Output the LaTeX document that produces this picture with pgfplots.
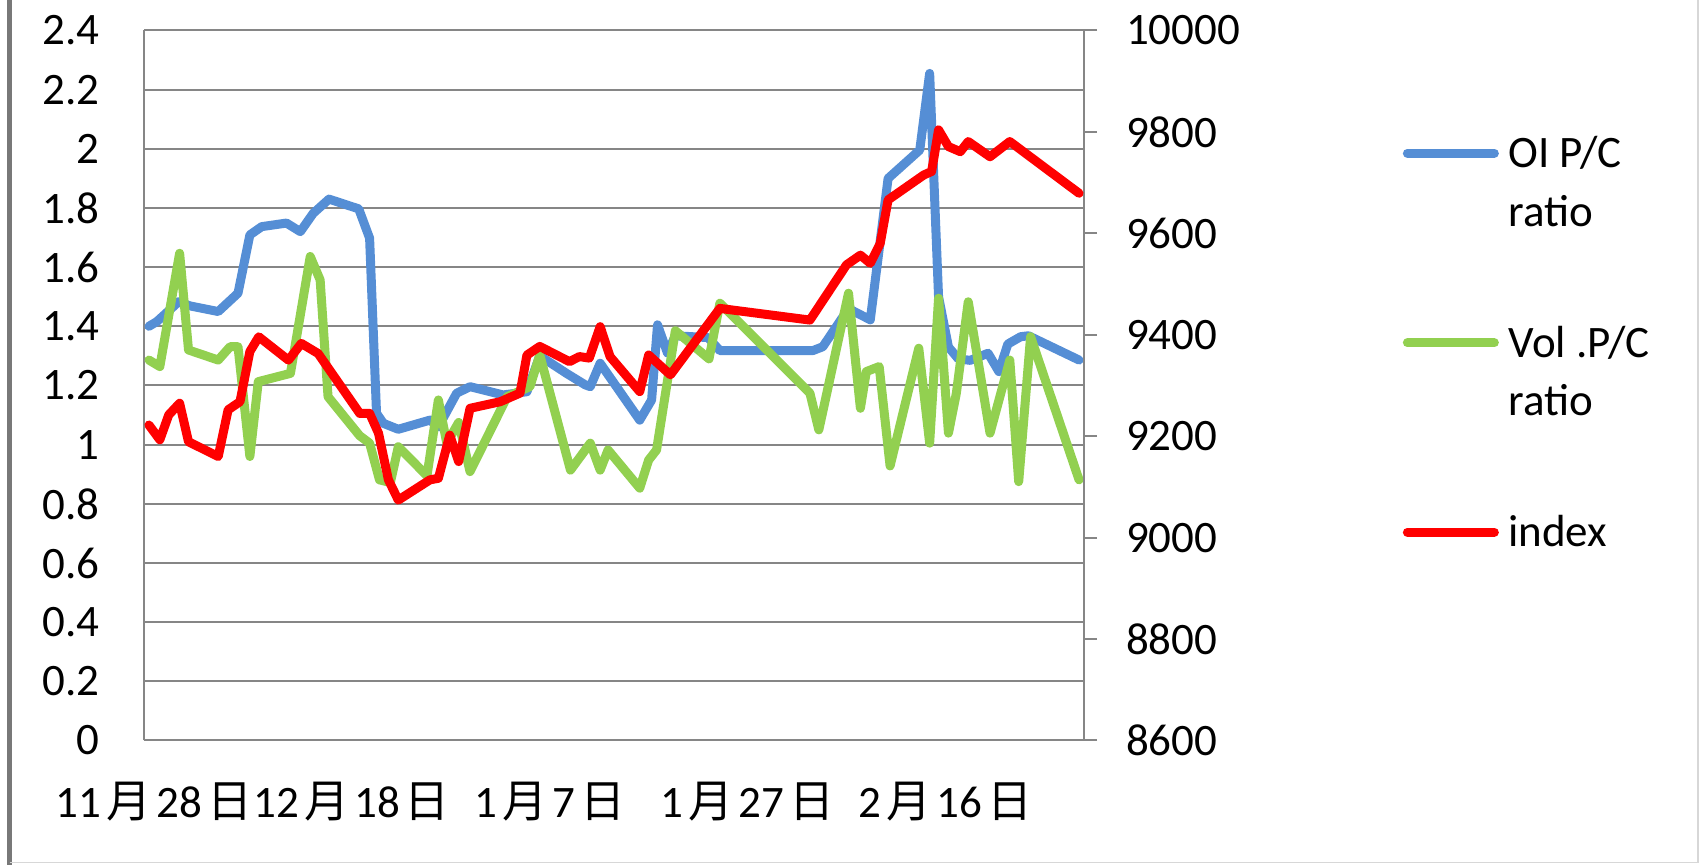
\documentclass[border=0pt]{standalone}
\usepackage{pgfplots}
\pgfplotsset{compat=1.18}
\usepackage{fontspec}
\setmainfont{Carlito}
\newfontfamily\cjk{Noto Sans CJK SC}
\definecolor{oiblue}{RGB}{85,142,213}
\definecolor{volgreen}{RGB}{146,208,80}
\definecolor{idxred}{RGB}{255,0,0}
\definecolor{gridgray}{RGB}{134,134,134}
\definecolor{bordergray}{RGB}{120,120,120}
\definecolor{lightborder}{RGB}{215,215,215}
\newcommand{\fs}{\fontsize{22.5}{27}\selectfont}
\newcommand{\yue}{\hspace{2.5pt}{\cjk 月}\hspace{2.5pt}}
\newcommand{\ri}{\hspace{2.5pt}{\cjk 日}}
\begin{document}
\begin{tikzpicture}
\useasboundingbox (0,0) rectangle (850pt,432.5pt);
\draw[line width=2.2pt, bordergray] (4.75pt,0pt) -- (4.75pt,432.5pt);
\draw[line width=0.6pt, lightborder] (4.75pt,1.15pt) -- (849pt,1.15pt) -- (849pt,432.5pt);
\begin{axis}[
  at={(72pt,62.25pt)}, anchor=south west,
  scale only axis, width=470pt, height=355pt,
  xmin=-0.5, xmax=94.5, ymin=0, ymax=2.4,
  axis x line*=bottom, axis y line*=left,
  axis line style={draw=gridgray, line width=1pt},
  ymajorgrids, grid style={draw=gridgray, line width=1pt},
  ytick={0,0.2,0.4,0.6,0.8,1,1.2,1.4,1.6,1.8,2,2.2,2.4},
  xtick={0,20,40,60,80},
  xticklabels={11\yue28\ri, 12\yue18\ri, 1\yue7\ri, 1\yue27\ri, 2\yue16\ri},
  major tick length=0pt,
  tick label style={font=\fs},
  yticklabel style={anchor=east, inner sep=0pt, xshift=-22pt},
  xticklabel style={anchor=base, inner sep=0pt, yshift=-38.75pt, xshift=2.5pt},
  /pgf/number format/assume math mode=true,
]
\addplot[oiblue, line width=4.5pt, line join=round, line cap=round] table {
d v
0 1.400
0.8 1.416
3.0 1.483
4.15 1.469
7.0 1.450
9.0 1.512
10.2 1.709
11.4 1.737
13.9 1.749
15.3 1.720
16.6 1.782
18.2 1.830
21.2 1.797
22.3 1.698
23.0 1.106
23.7 1.072
25.2 1.052
28.4 1.083
29.25 1.060
31.1 1.174
32.45 1.196
35.8 1.168
38.2 1.179
39.5 1.300
42.2 1.241
44.1 1.202
44.6 1.196
45.6 1.275
49.6 1.083
50.8 1.151
51.4 1.405
52.4 1.310
53.2 1.368
56.5 1.362
57.7 1.318
67.1 1.318
68.1 1.331
70.7 1.460
72.9 1.422
74.7 1.900
77.9 1.996
78.9 2.255
79.8 1.500
80.8 1.330
81.8 1.290
83.0 1.285
84.8 1.309
85.9 1.247
86.8 1.340
88.1 1.365
88.9 1.368
94.0 1.286
};
\addplot[volgreen, line width=4.5pt, line join=round, line cap=round] table {
d v
0 1.286
1.1 1.264
3.1 1.647
4.0 1.320
7.0 1.286
8.2 1.331
9.0 1.331
10.2 0.960
11.05 1.213
14.3 1.241
16.3 1.636
17.3 1.557
18.1 1.162
21.3 1.030
22.3 1.005
23.3 0.881
24.4 0.872
25.2 0.993
28.1 0.895
29.25 1.151
30.1 1.005
31.3 1.075
32.45 0.909
36.2 1.162
38.5 1.196
39.5 1.303
42.6 0.914
44.6 1.005
45.6 0.914
46.4 0.982
49.6 0.853
50.5 0.948
51.3 0.982
53.2 1.385
56.6 1.290
57.7 1.478
66.8 1.174
67.7 1.050
70.7 1.512
71.9 1.123
72.5 1.247
73.8 1.264
74.9 0.928
77.8 1.326
78.9 1.005
79.8 1.495
80.8 1.039
81.6 1.174
82.8 1.483
85.0 1.039
87.0 1.286
87.9 0.875
89.1 1.365
94.0 0.881
};
\end{axis}
\begin{axis}[
  at={(72pt,62.25pt)}, anchor=south west,
  scale only axis, width=470pt, height=355pt,
  xmin=-0.5, xmax=94.5, ymin=8600, ymax=10000,
  axis y line*=right, axis x line=none,
  axis line style={draw=gridgray, line width=1pt},
  ytick={8600,8800,9000,9200,9400,9600,9800,10000},
  tick align=outside, major tick length=6.5pt,
  ytick style={draw=gridgray, line width=1pt},
  tick label style={font=\fs},
  yticklabel style={anchor=west, inner sep=0pt, xshift=14.3pt},
  scaled y ticks=false,
  /pgf/number format/1000 sep={},
  /pgf/number format/assume math mode=true,
  legend style={at={(1.3392,0.8472)}, anchor=north west, draw=none, fill=none,
    inner sep=0pt, outer sep=0pt, row sep=80.45pt, column sep=4.75pt, font=\fs,
    nodes={inner sep=0pt, text height=14.3pt, text depth=0pt}},
  legend cell align=left,
  legend image code/.code={\draw[#1, line cap=round] (0pt,0pt) -- (43.5pt,0pt);},
]
\addlegendimage{oiblue, line width=4.5pt}
\addlegendentry{\makebox[0pt][l]{\raisebox{-29.3pt}[0pt][0pt]{ratio}}OI P/C}
\addlegendimage{volgreen, line width=4.5pt}
\addlegendentry{\makebox[0pt][l]{\raisebox{-29.3pt}[0pt][0pt]{ratio}}Vol .P/C}
\addplot[idxred, line width=4.5pt, line join=round, line cap=round] table {
d idx
0 9222
1.1 9193
2.0 9242
3.1 9265
4.0 9189
7.0 9160
8.0 9252
9.2 9268
10.2 9367
11.1 9396
14.1 9350
15.4 9383
17.1 9363
21.3 9245
22.3 9245
23.2 9206
24.2 9114
25.2 9074
28.4 9114
29.25 9117
30.4 9202
31.3 9150
32.45 9255
35.5 9268
37.5 9285
38.2 9360
39.5 9377
42.5 9347
43.5 9357
44.5 9354
45.6 9416
46.6 9357
49.6 9288
50.5 9360
52.7 9321
57.7 9452
66.8 9429
70.5 9538
71.9 9557
72.9 9541
73.9 9580
74.7 9666
78.3 9715
79.1 9722
79.8 9804
80.8 9771
82.0 9761
82.8 9781
85.0 9751
87.0 9781
94.0 9679
};
\addlegendentry{index}
\end{axis}
\end{tikzpicture}
\end{document}
